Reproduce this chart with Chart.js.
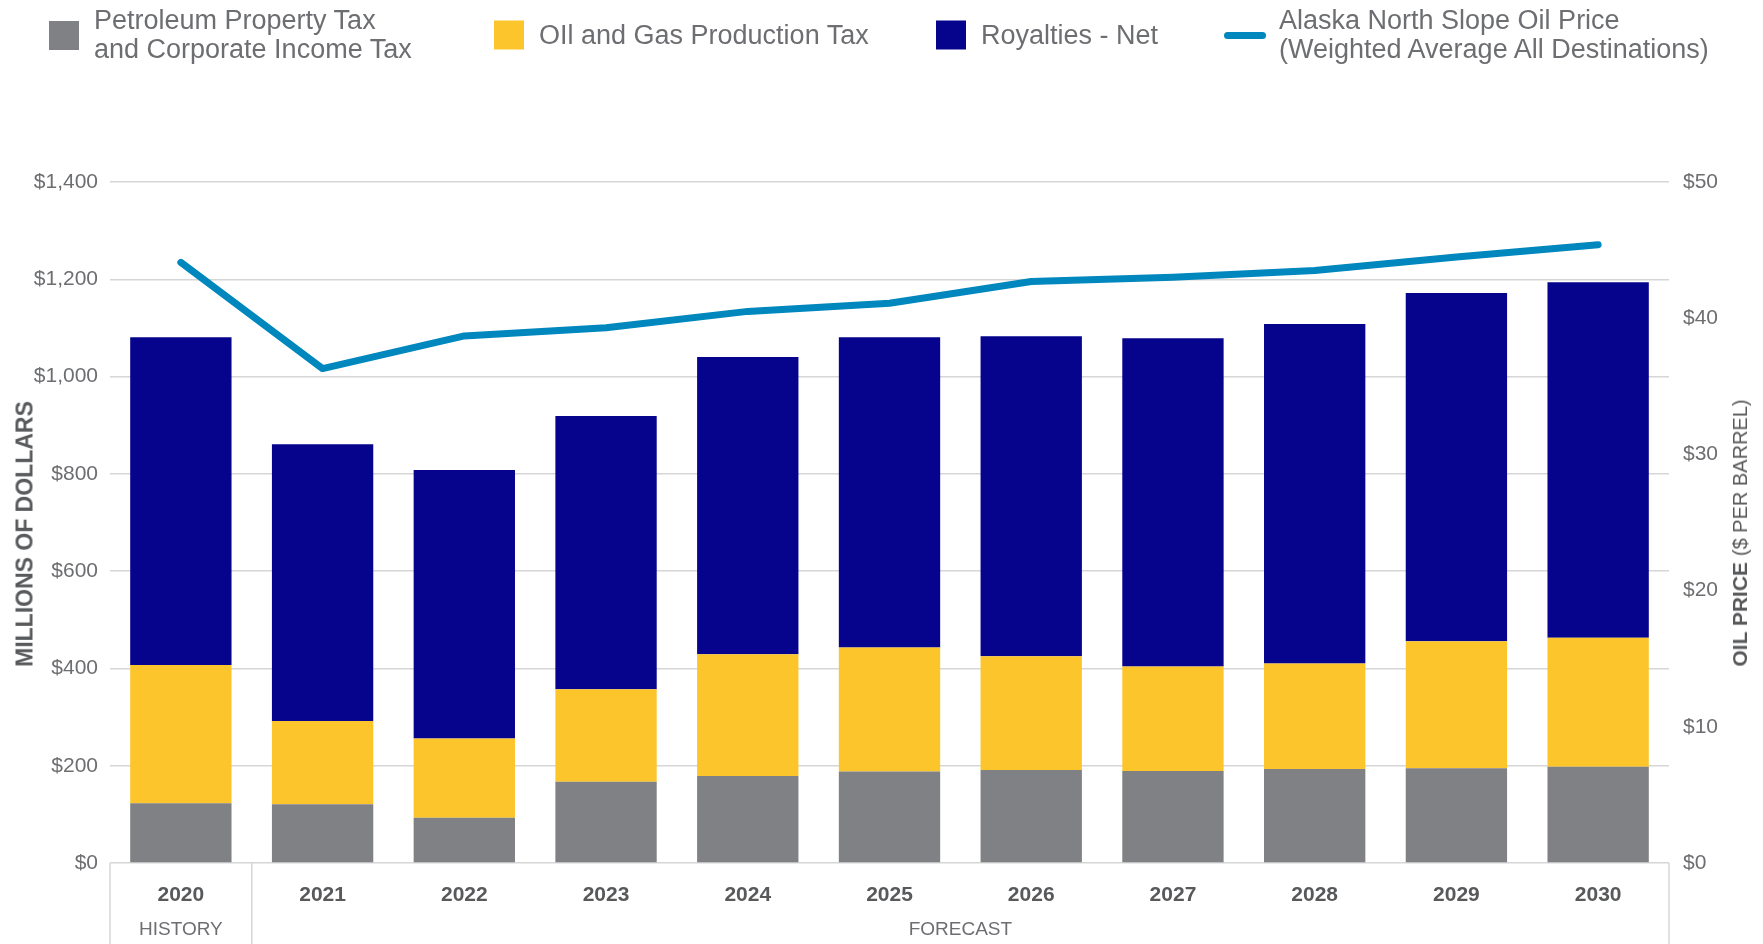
<!DOCTYPE html>
<html>
<head>
<meta charset="utf-8">
<title>Petroleum Revenue</title>
<script src="https://cdn.jsdelivr.net/npm/chart.js@4.4.1/dist/chart.umd.min.js"></script>
<style>
    body { margin: 0; background: #fff; }
    #wrap {
        position: relative; width: 1763px; height: 944px;
        font-family: "Liberation Sans Narrow", "Liberation Sans", sans-serif;
        color: #6d6e71;
    }
    #chart { position: absolute; left: 0; top: 0; }
    .legend-item {
        position: absolute; top: 35px; transform: translateY(-50%);
        display: flex; align-items: center;
        font-size: 27px; line-height: 29px;
    }
    .swatch { width: 30px; height: 29px; margin-right: 15px; }
    .swatch.line { width: 42px; height: 7px; border-radius: 4px; margin-right: 13px; }
    .axis-title {
        position: absolute; transform: translate(-50%, -50%) rotate(-90deg);
        white-space: nowrap; font-family: "Liberation Sans", sans-serif; color: #58595b;
    }
</style>
</head>
<body>
<div id="wrap">
    <canvas id="chart" width="1763" height="944"></canvas>
    <div id="legend"></div>
    <div class="axis-title" style="left:25px; top:534px; font-size:23px; font-weight:bold;">MILLIONS OF DOLLARS</div>
    <div class="axis-title" style="left:1740px; top:533px; font-size:21px;"><b>OIL PRICE</b> <span style="font-size:20px;">($ PER BARREL)</span></div>
</div>
<script>
// Fiscal years on the x axis
const years = ["2020", "2021", "2022", "2023", "2024", "2025", "2026", "2027", "2028", "2029", "2030"];

// Revenue components, millions of dollars
const propertyAndCorporateTax = [123, 121, 93, 167, 179, 188, 191, 189, 193, 195, 198];
const productionTax = [284, 171, 163, 190, 250, 255, 234, 215, 217, 261, 265];
const royaltiesNet = [674, 569, 552, 562, 611, 638, 658, 675, 698, 716, 731];

// ANS oil price, $ per barrel
const oilPrice = [44.1, 36.3, 38.7, 39.3, 40.5, 41.1, 42.7, 43.0, 43.5, 44.5, 45.4];

// Period bands under the axis (index of the first year in each)
const periodLabels = ["HISTORY", "FORECAST"];
const periodStarts = [0, 1];

// Axis ranges
const dollarTicks = [0, 200, 400, 600, 800, 1000, 1200, 1400];
const priceTicks = [0, 10, 20, 30, 40, 50];

const seriesLabels = [
    ["Petroleum Property Tax", "and Corporate Income Tax"],
    ["OIl and Gas Production Tax"],
    ["Royalties - Net"],
    ["Alaska North Slope Oil Price", "(Weighted Average All Destinations)"]
];

const GRAY = "#808184";
const YELLOW = "#fdc52c";
const NAVY = "#06038d";
const TEAL = "#0087bd";
const TEXT = "#6d6e71";
const GRID = "#d6d6d6";
const NARROW = "'Liberation Sans Narrow', 'Liberation Sans', sans-serif";

// Draws the box under the axis with the history / forecast split
const periodBox = {
    id: "periodBox",
    afterDraw(chart) {
        const { ctx, chartArea, scales } = chart;
        const x = scales.x;
        const top = chartArea.bottom;
        const bottom = chart.height;
        const half = (x.getPixelForValue(1) - x.getPixelForValue(0)) / 2;

        ctx.save();
        ctx.strokeStyle = GRID;
        ctx.lineWidth = 1.5;
        const edges = periodStarts.map(i => x.getPixelForValue(i) - half);
        edges.push(x.getPixelForValue(years.length - 1) + half);
        edges.forEach(px => {
            ctx.beginPath();
            ctx.moveTo(px, top);
            ctx.lineTo(px, bottom);
            ctx.stroke();
        });

        ctx.fillStyle = TEXT;
        ctx.font = "19px " + NARROW;
        ctx.textAlign = "center";
        ctx.textBaseline = "middle";
        periodLabels.forEach((label, i) => {
            ctx.fillText(label, (edges[i] + edges[i + 1]) / 2, 930);
        });
        ctx.restore();
    }
};

const chart = new Chart(document.getElementById("chart"), {
    data: {
        labels: years,
        datasets: [
            {
                type: "line",
                label: seriesLabels[3].join(" "),
                data: oilPrice,
                yAxisID: "y1",
                borderColor: TEAL,
                backgroundColor: TEAL,
                borderWidth: 7,
                pointRadius: 0,
                borderCapStyle: "round",
                borderJoinStyle: "round",
                tension: 0,
                order: 0
            },
            {
                type: "bar",
                label: seriesLabels[0].join(" "),
                data: propertyAndCorporateTax,
                backgroundColor: GRAY,
                stack: "rev",
                order: 1
            },
            {
                type: "bar",
                label: seriesLabels[1].join(" "),
                data: productionTax,
                backgroundColor: YELLOW,
                stack: "rev",
                order: 1
            },
            {
                type: "bar",
                label: seriesLabels[2].join(" "),
                data: royaltiesNet,
                backgroundColor: NAVY,
                stack: "rev",
                order: 1
            }
        ]
    },
    options: {
        responsive: false,
        animation: false,
        layout: { padding: { top: 182, left: 0, right: 0, bottom: 0 } },
        datasets: {
            bar: { barPercentage: 0.715, categoryPercentage: 1 }
        },
        plugins: {
            legend: { display: false },
            tooltip: { enabled: false }
        },
        scales: {
            x: {
                stacked: true,
                grid: { display: false, drawTicks: false },
                border: { display: false },
                ticks: {
                    padding: 20,
                    color: "#58595b",
                    font: { family: NARROW, size: 21, weight: "bold" }
                },
                afterFit: s => { s.height = 81; }
            },
            y: {
                position: "left",
                stacked: true,
                min: dollarTicks[0],
                max: dollarTicks[dollarTicks.length - 1],
                afterBuildTicks: s => { s.ticks = dollarTicks.map(v => ({ value: v })); },
                grid: { color: GRID, lineWidth: 1.5, drawTicks: false },
                border: { display: false },
                ticks: {
                    padding: 12,
                    color: TEXT,
                    font: { family: NARROW, size: 21 },
                    callback: v => "$" + v.toLocaleString("en-US")
                },
                afterFit: s => { s.width = 110; }
            },
            y1: {
                position: "right",
                min: priceTicks[0],
                max: priceTicks[priceTicks.length - 1],
                afterBuildTicks: s => { s.ticks = priceTicks.map(v => ({ value: v })); },
                grid: { display: false, drawTicks: false },
                border: { display: false },
                ticks: {
                    padding: 14,
                    color: TEXT,
                    font: { family: NARROW, size: 21 },
                    callback: v => "$" + v
                },
                afterFit: s => { s.width = 94; }
            }
        }
    },
    plugins: [periodBox]
});

// HTML legend, built from the chart's datasets
const legendSpots = [
    { left: 49, dataset: 1, label: 0 },
    { left: 494, dataset: 2, label: 1 },
    { left: 936, dataset: 3, label: 2 },
    { left: 1224, dataset: 0, label: 3 }
];
const legend = document.getElementById("legend");
legendSpots.forEach(spot => {
    const ds = chart.data.datasets[spot.dataset];
    const item = document.createElement("div");
    item.className = "legend-item";
    item.style.left = spot.left + "px";
    const sw = document.createElement("div");
    sw.className = "swatch" + (ds.type === "line" ? " line" : "");
    sw.style.background = ds.type === "line" ? ds.borderColor : ds.backgroundColor;
    const text = document.createElement("div");
    text.innerHTML = seriesLabels[spot.label].join("<br>");
    item.appendChild(sw);
    item.appendChild(text);
    legend.appendChild(item);
});
</script>
</body>
</html>
